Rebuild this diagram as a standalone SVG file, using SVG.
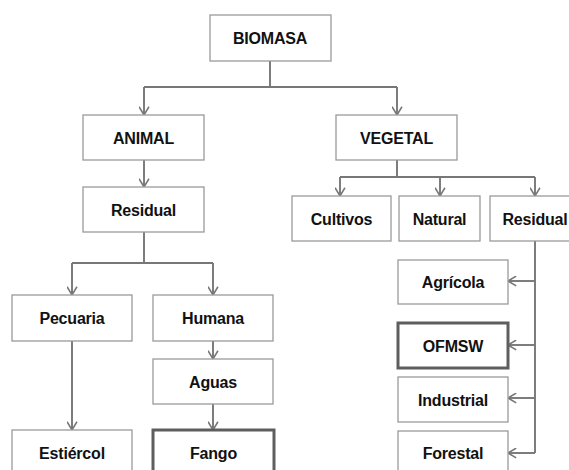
<svg xmlns="http://www.w3.org/2000/svg" width="569" height="470" viewBox="0 0 569 470">
  <style>
    .box { fill: #ffffff; stroke: #9a9a9a; stroke-width: 1.3; }
    .hl { fill: #ffffff; stroke: #5e5e5e; stroke-width: 3; }
    .lbl { font-family: "Liberation Sans", Arial, sans-serif; font-weight: bold; font-size: 16px; fill: #111111; text-anchor: middle; letter-spacing: -0.2px; }
    .wire { fill: none; stroke: #777777; stroke-width: 1.9; }
    .arr { marker-end: url(#v); }
  </style>
  <defs>
    <marker id="v" viewBox="0 0 10 10" refX="9.5" refY="5" markerWidth="11" markerHeight="11" markerUnits="userSpaceOnUse" orient="auto">
      <path d="M2,0.5 L9.5,5 L2,9.5" fill="none" stroke="#777777" stroke-width="1.4"/>
    </marker>
  </defs>
  <rect width="569" height="470" fill="#ffffff"/>

  <!-- connectors -->
  <g id="connectors">
    <path class="wire" d="M270,61 V87 M144,87 H397"/>
    <path class="wire arr" d="M144,87 V115"/>
    <path class="wire arr" d="M397,87 V115"/>
    <path class="wire arr" d="M144,160 V187"/>
    <path class="wire" d="M144,232 V263 M72,263 H213"/>
    <path class="wire arr" d="M72,263 V295"/>
    <path class="wire arr" d="M213,263 V295"/>
    <path class="wire arr" d="M72,341 V430"/>
    <path class="wire arr" d="M213,341 V359"/>
    <path class="wire arr" d="M213,404 V430"/>
    <path class="wire" d="M397,160 V177 M340,177 H535"/>
    <path class="wire arr" d="M340,177 V196"/>
    <path class="wire arr" d="M440,177 V196"/>
    <path class="wire arr" d="M535,177 V196"/>
    <path class="wire" d="M535,241 V453"/>
    <path class="wire arr" d="M535,281 H508"/>
    <path class="wire arr" d="M535,345 H508"/>
    <path class="wire arr" d="M535,398 H508"/>
    <path class="wire arr" d="M535,453 H508"/>
  </g>

  <g id="biomasa"><rect class="box" x="210" y="15" width="121" height="46"/><text class="lbl" x="270" y="44">BIOMASA</text></g>
  <g id="animal"><rect class="box" x="83" y="115" width="121" height="45"/><text class="lbl" x="143.5" y="143.5">ANIMAL</text></g>
  <g id="vegetal"><rect class="box" x="336" y="115" width="121" height="45"/><text class="lbl" x="396.5" y="143.5">VEGETAL</text></g>
  <g id="residual-animal"><rect class="box" x="83" y="187" width="121" height="45"/><text class="lbl" x="143.5" y="215.5">Residual</text></g>
  <g id="pecuaria"><rect class="box" x="12" y="295" width="120" height="46"/><text class="lbl" x="72" y="324">Pecuaria</text></g>
  <g id="humana"><rect class="box" x="153" y="295" width="120" height="46"/><text class="lbl" x="213" y="324">Humana</text></g>
  <g id="aguas"><rect class="box" x="153" y="359" width="120" height="45"/><text class="lbl" x="213" y="387.5">Aguas</text></g>
  <g id="estiercol"><rect class="box" x="12" y="430" width="120" height="48"/><text class="lbl" x="72" y="458.5">Estiércol</text></g>
  <g id="fango"><rect class="hl" x="153" y="430" width="121" height="48"/><text class="lbl" x="213.5" y="458.5">Fango</text></g>
  <g id="cultivos"><rect class="box" x="292" y="196" width="99" height="45"/><text class="lbl" x="341.5" y="224.5">Cultivos</text></g>
  <g id="natural"><rect class="box" x="399" y="196" width="81" height="45"/><text class="lbl" x="439.5" y="224.5">Natural</text></g>
  <g id="residual-vegetal"><rect class="box" x="490" y="196" width="90" height="45"/><text class="lbl" x="535" y="224.5">Residual</text></g>
  <g id="agricola"><rect class="box" x="398" y="260" width="110" height="44"/><text class="lbl" x="453" y="288">Agrícola</text></g>
  <g id="ofmsw"><rect class="hl" x="398" y="323" width="110" height="45"/><text class="lbl" x="453" y="351.5">OFMSW</text></g>
  <g id="industrial"><rect class="box" x="398" y="377" width="110" height="45"/><text class="lbl" x="453" y="405.5">Industrial</text></g>
  <g id="forestal"><rect class="box" x="398" y="431" width="110" height="47"/><text class="lbl" x="453" y="459">Forestal</text></g>
</svg>
